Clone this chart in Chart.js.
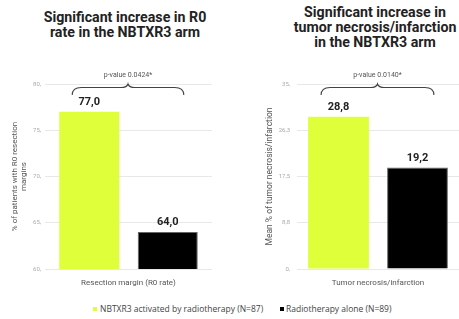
<!DOCTYPE html>
<html>
<head>
<meta charset="utf-8">
<script src="https://cdn.jsdelivr.net/npm/chart.js@4"></script>
<style>
  html, body { margin: 0; padding: 0; background: #fff; }
  body { width: 459px; height: 319px; position: relative; overflow: hidden; font-family: Roboto, "Open Sans", sans-serif; }
  .title { position: absolute; text-align: center; font-weight: 700; font-size: 14.2px; line-height: 15px; color: #222; }
  .box { position: absolute; }
  .legend { position: absolute; left: 0; top: 303px; width: 459px; font-size: 8.5px; font-family: "Open Sans", sans-serif; color: #444; white-space: nowrap; }
  .legend span.sw { position: absolute; width: 4px; height: 4px; top: 4px; }
  .legend span.tx { position: absolute; top: 0; line-height: 12px; }
</style>
</head>
<body>
<div class="title" id="t1" style="left:15px; top:10px; width:220px;">Significant increase in R0<br>rate in the NBTXR3 arm</div>
<div class="title" id="t2" style="left:265px; top:5px; width:220px;">Significant increase in<br>tumor necrosis/infarction<br>in the NBTXR3 arm</div>
<div class="box" style="left:0; top:60px; width:216px; height:232px;"><canvas id="c1" width="216" height="232"></canvas></div>
<div class="box" style="left:230px; top:60px; width:229px; height:232px;"><canvas id="c2" width="229" height="232"></canvas></div>
<div class="legend" id="legend"></div>
<script>
// ---- data ----
const categoriesR0 = ['Resection margin (R0 rate)'];
const nbtxr3R0 = [77.0];
const radioR0 = [64.0];
const categoriesNecrosis = ['Tumor necrosis/infarction'];
const nbtxr3Necrosis = [28.8];
const radioNecrosis = [19.2];
const seriesLabels = ['NBTXR3 activated by radiotherapy (N=87)', 'Radiotherapy alone (N=89)'];
const pValueLabels = ['p-value 0.0424*', 'p-value 0.0140*'];
const yTitleR0 = ['% of patients with R0 resection', 'margins'];
const yTitleNecrosis = 'Mean % of tumor necrosis/infarction';
const yRangeR0 = [60, 80, 5];
const yRangeNecrosis = [0, 35, 8.75];

const YELLOW = '#DFFF3A';
const BLACK = '#000000';

function fmtComma(v, d) { return v.toFixed(d).replace('.', ','); }
function tickFmt(v) { return Number.isInteger(v) ? v + ',' : fmtComma(v, 1); }

const valueLabels = {
  id: 'valueLabels',
  afterDatasetsDraw(chart) {
    const ctx = chart.ctx;
    ctx.save();
    ctx.font = 'bold 11px Roboto, sans-serif';
    ctx.fillStyle = '#222';
    ctx.textAlign = 'center';
    ctx.textBaseline = 'middle';
    chart.data.datasets.forEach((ds, i) => {
      chart.getDatasetMeta(i).data.forEach((bar, j) => {
        ctx.fillText(fmtComma(ds.data[j], 1), bar.x, bar.y - 9.5);
      });
    });
    ctx.restore();
  }
};

const brace = {
  id: 'brace',
  afterDatasetsDraw(chart, args, opts) {
    const ctx = chart.ctx;
    const b1 = chart.getDatasetMeta(0).data[0];
    const b2 = chart.getDatasetMeta(1).data[0];
    const x1 = b1.x - b1.width / 2 + 13;
    const x2 = b2.x + b2.width / 2 - 14;
    const mid = (x1 + x2) / 2;
    const top = chart.chartArea.top;
    const yTip = top + 0;
    const yBar = top + 3.5;
    const yEnd = top + 11;
    ctx.save();
    ctx.strokeStyle = '#444';
    ctx.lineWidth = 1.1;
    ctx.beginPath();
    ctx.moveTo(x1, yEnd);
    ctx.quadraticCurveTo(x1, yBar, x1 + 9, yBar);
    ctx.lineTo(mid - 7, yBar);
    ctx.quadraticCurveTo(mid - 1, yBar, mid, yTip);
    ctx.quadraticCurveTo(mid + 1, yBar, mid + 7, yBar);
    ctx.lineTo(x2 - 9, yBar);
    ctx.quadraticCurveTo(x2, yBar, x2, yEnd);
    ctx.stroke();
    ctx.font = '7px Roboto, sans-serif';
    ctx.fillStyle = '#555';
    ctx.textAlign = 'center';
    ctx.textBaseline = 'middle';
    ctx.fillText(opts.text, mid, top - 9);
    ctx.restore();
  }
};

function makeChart(id, cats, a, b, range, yTitle, titleFont, yWidth, titlePad, tickPad, padRight, catPct, barPct, pText) {
  return new Chart(document.getElementById(id), {
    type: 'bar',
    data: {
      labels: cats,
      datasets: [
        { label: seriesLabels[0], data: a, backgroundColor: YELLOW, borderColor: YELLOW, borderWidth: 0 },
        { label: seriesLabels[1], data: b, backgroundColor: BLACK, borderColor: '#666', borderWidth: 1 }
      ]
    },
    options: {
      responsive: false,
      animation: false,
      events: [],
      layout: { padding: { top: 24, right: padRight, left: 0, bottom: 0 } },
      datasets: { bar: { categoryPercentage: catPct, barPercentage: barPct } },
      plugins: {
        legend: { display: false },
        tooltip: { enabled: false },
        brace: { text: pText }
      },
      scales: {
        x: {
          grid: { display: false, drawTicks: false },
          border: { display: false },
          ticks: { color: '#555', font: { size: 8, family: 'Roboto' }, padding: 9 },
          afterFit(s) { s.height = 23; }
        },
        y: {
          min: range[0], max: range[1],
          grid: { color: '#e8e8e8', drawTicks: false, lineWidth: 1 },
          border: { display: false },
          ticks: { stepSize: range[2], color: '#aaa', font: { size: 6, family: 'Roboto' }, padding: tickPad, callback: v => tickFmt(v) },
          title: { display: true, text: yTitle, color: '#555', font: { size: titleFont, family: 'Roboto' }, padding: { top: titlePad, bottom: 0 } },
          afterFit(s) { s.width = yWidth; }
        }
      }
    },
    plugins: [valueLabels, brace]
  });
}

makeChart('c1', categoriesR0, nbtxr3R0, radioR0, yRangeR0, yTitleR0, 8, 45, 10, 4, 4, 0.94, 0.765, pValueLabels[0]);
makeChart('c2', categoriesNecrosis, nbtxr3Necrosis, radioNecrosis, yRangeNecrosis, yTitleNecrosis, 8.5, 67, 35, 7, 0, 0.975, 0.77, pValueLabels[1]);

// legend (HTML)
const lg = document.getElementById('legend');
const legendPos = [[93, 100], [280, 286]];
[YELLOW, BLACK].forEach((c, i) => {
  const sw = document.createElement('span'); sw.className = 'sw'; sw.style.background = c; sw.style.left = legendPos[i][0] + 'px';
  const tx = document.createElement('span'); tx.className = 'tx'; tx.textContent = seriesLabels[i]; tx.style.left = legendPos[i][1] + 'px';
  lg.appendChild(sw); lg.appendChild(tx);
});
</script>
</body>
</html>
